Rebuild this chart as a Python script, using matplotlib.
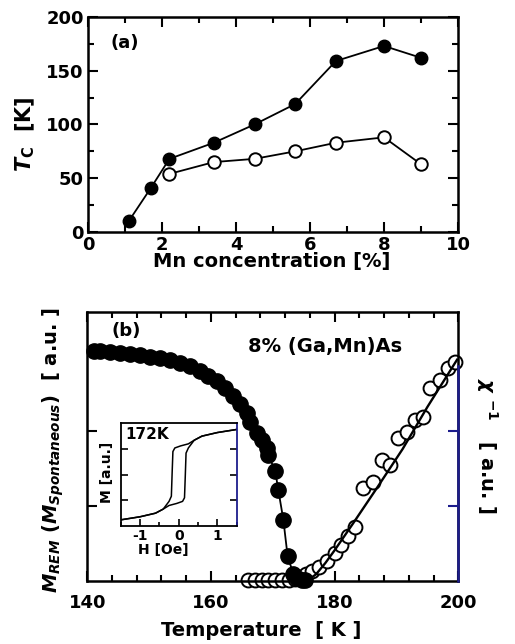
import matplotlib
matplotlib.use('Agg')
import matplotlib.pyplot as plt
from matplotlib.ticker import MultipleLocator

plt.rcParams['font.family'] = 'DejaVu Sans'
plt.rcParams['font.weight'] = 'bold'
plt.rcParams['axes.unicode_minus'] = False
plt.rcParams['mathtext.fontset'] = 'custom'
plt.rcParams['mathtext.rm'] = 'DejaVu Sans:bold'
plt.rcParams['mathtext.it'] = 'DejaVu Sans:italic:bold'
plt.rcParams['mathtext.bf'] = 'DejaVu Sans:bold'

# (a) Tc vs Mn concentration
mn = [1.1, 1.7, 2.2, 3.4, 4.5, 5.6, 6.7, 8.0, 9.0]
tc_full = [10, 41, 68, 83, 100, 119, 159, 173, 162]
mn_open = [2.2, 3.4, 4.5, 5.6, 6.7, 8.0, 9.0]
tc_open = [54, 65, 68, 75, 83, 88, 63]

# (b) M_REM and 1/chi vs temperature
T_m = [141.1, 142.1, 143.7, 145.3, 146.9, 148.5, 150.1, 151.8, 153.4, 155.0, 156.6,
       158.2, 159.6, 160.9, 162.3, 163.6, 164.7, 165.8, 166.3, 167.4, 168.2, 169.0,
       169.3, 170.4, 170.9, 171.7, 172.4, 173.3, 173.9, 174.7, 175.2]
M_rem = [3.07, 3.06, 3.05, 3.04, 3.03, 3.01, 2.99, 2.97, 2.94, 2.90, 2.86,
         2.80, 2.73, 2.66, 2.57, 2.47, 2.36, 2.24, 2.12, 1.97, 1.88, 1.77,
         1.68, 1.46, 1.21, 0.82, 0.33, 0.10, 0.04, 0.01, 0.01]

T_chi = [166.0, 167.1, 168.2, 169.3, 170.4, 171.5, 172.6, 173.6, 174.5, 175.3, 176.3,
         177.4, 178.7, 180.0, 181.1, 182.2, 183.3, 184.6, 186.2, 187.6, 188.9, 190.3,
         191.7, 193.0, 194.3, 195.4, 197.0, 198.4, 199.5]
chi_inv = [0.02, 0.02, 0.02, 0.02, 0.02, 0.02, 0.02, 0.03, 0.05, 0.10, 0.14,
           0.19, 0.27, 0.37, 0.48, 0.60, 0.72, 1.24, 1.32, 1.61, 1.55, 1.90,
           1.99, 2.15, 2.19, 2.57, 2.68, 2.84, 2.92]

T_fit = [175.5, 177.0, 178.5, 180.0, 183.0, 187.0, 191.0, 195.0, 199.8]
chi_fit = [0.0, 0.09, 0.24, 0.41, 0.77, 1.26, 1.76, 2.32, 2.95]

# inset: hysteresis loop at 172K
H_dn = [1.5, 1.0, 0.6, 0.4, 0.25, 0.05, -0.1, -0.15, -0.17, -0.19, -0.25, -0.4, -0.6, -1.0, -1.5]
M_dn = [0.88, 0.82, 0.75, 0.67, 0.60, 0.56, 0.52, 0.45, 0.03, -0.42, -0.52, -0.67, -0.75, -0.82, -0.88]
H_up = [-1.5, -1.0, -0.6, -0.4, -0.25, -0.05, 0.1, 0.15, 0.17, 0.19, 0.25, 0.4, 0.6, 1.0, 1.5]
M_up = [-0.88, -0.82, -0.75, -0.67, -0.60, -0.56, -0.52, -0.45, -0.03, 0.42, 0.52, 0.67, 0.75, 0.82, 0.88]

blue = '#1c1c8c'
fig = plt.figure(figsize=(5.15, 6.44), dpi=100)

#Painel (a):
ax1 = fig.add_axes([0.1709, 0.6398, 0.7184, 0.3339])
ax1.plot(mn, tc_full, 'k-', lw=1.3, marker='o', ms=9, mfc='k', mec='k', clip_on=False)
ax1.plot(mn_open, tc_open, 'k-', lw=1.3, marker='o', ms=9, mfc='w', mec='k', mew=1.4, clip_on=False)
ax1.set_xlim(0, 10)
ax1.set_ylim(0, 200)
ax1.xaxis.set_major_locator(MultipleLocator(2))
ax1.xaxis.set_minor_locator(MultipleLocator(1))
ax1.yaxis.set_major_locator(MultipleLocator(50))
ax1.yaxis.set_minor_locator(MultipleLocator(25))
ax1.tick_params(which='both', direction='in', top=True, right=True, width=1.5)
ax1.tick_params(which='major', length=7, labelsize=13, pad=3)
ax1.tick_params(which='minor', length=4)
for s in ax1.spines.values():
    s.set_linewidth(1.8)
ax1.text(0.099, 0.879, '(a)', transform=ax1.transAxes, ha='center', va='center', fontsize=13)
fig.text(272/515, 1-262/644, 'Mn concentration [%]', ha='center', va='center', fontsize=14)
fig.text(25/515, 1-134/644, r'$T_{\rm C}$  [K]', ha='center', va='center', rotation=90, fontsize=15)

#Painel (b):
ax2 = fig.add_axes([0.1695, 0.0978, 0.7204, 0.4182])
ax2.plot(T_chi, chi_inv, 'o', ms=10, mfc='w', mec='k', mew=1.4, clip_on=False, zorder=2)
ax2.plot(T_fit, chi_fit, 'k-', lw=1.7, zorder=3)
ax2.plot(T_m, M_rem, 'k-', lw=1.3, marker='o', ms=11, mfc='k', mec='k', clip_on=False, zorder=4)
ax2.set_xlim(140, 200)
ax2.set_ylim(0, 3.59)
ax2.xaxis.set_major_locator(MultipleLocator(20))
ax2.xaxis.set_minor_locator(MultipleLocator(4))
ax2.set_yticks([1, 2, 3])
ax2.set_yticklabels([])
ax2.tick_params(which='both', direction='in', top=True, right=False, width=1.5)
ax2.tick_params(which='major', length=7, labelsize=13, pad=9)
ax2.tick_params(which='minor', length=4)
for s in ax2.spines.values():
    s.set_linewidth(1.8)
ax2.text(0.104, 0.928, '(b)', transform=ax2.transAxes, ha='center', va='center', fontsize=13)
ax2.text(0.641, 0.869, '8% (Ga,Mn)As', transform=ax2.transAxes, ha='center', va='center', fontsize=14)

axr = ax2.twinx()
axr.set_ylim(0, 3.59)
axr.set_yticks([1, 2])
axr.tick_params(axis='y', direction='in', color=blue, width=1.5, length=7, labelright=False)
for k in ['top', 'bottom', 'left']:
    axr.spines[k].set_visible(False)
axr.spines['right'].set_color(blue)
axr.spines['right'].set_linewidth(1.8)
axr.spines['right'].set_bounds(0, 2.87)

fig.text(261/515, 1-630/644, 'Temperature  [ K ]', ha='center', va='center', fontsize=14)
fig.text(53/515, 1-450/644, r'$M_{REM}$ $(M_{Spontaneous})$  [ a.u. ]',
         ha='center', va='center', rotation=90, fontsize=14)
fig.text(487/515, 1-446/644, r'$\chi$ $^{\mathrm{-1}}$   [ a.u. ]', ha='center', va='center',
         rotation=270, fontsize=14)

#Inset:
axi = fig.add_axes([0.2344, 0.1832, 0.2252, 0.1595])
axi.plot(H_dn, M_dn, 'k-', lw=1.1)
axi.plot(H_up, M_up, 'k-', lw=1.1)
axi.set_xlim(-1.5, 1.5)
axi.set_ylim(-1, 1)
axi.set_xticks([-1, 0, 1])
axi.xaxis.set_minor_locator(MultipleLocator(0.5))
axi.set_yticks([-0.5, 0, 0.5])
axi.set_yticklabels([])
axi.tick_params(which='both', direction='in', top=False, right=True, width=1.2, labelsize=10, pad=2)
axi.tick_params(which='major', length=5)
axi.tick_params(which='minor', length=3)
axi.tick_params(axis='y', which='both', labelright=False)
for s in axi.spines.values():
    s.set_linewidth(1.3)
axi.spines['right'].set_color(blue)
axi.text(0.04, 0.89, '172K', transform=axi.transAxes, ha='left', va='center', fontsize=11)
fig.text(163/515, 1-550/644, 'H [Oe]', ha='center', va='center', fontsize=10)
fig.text(107/515, 1-472/644, 'M [a.u.]', ha='center', va='center', rotation=90, fontsize=10)

fig.savefig('out.png', dpi=100)
